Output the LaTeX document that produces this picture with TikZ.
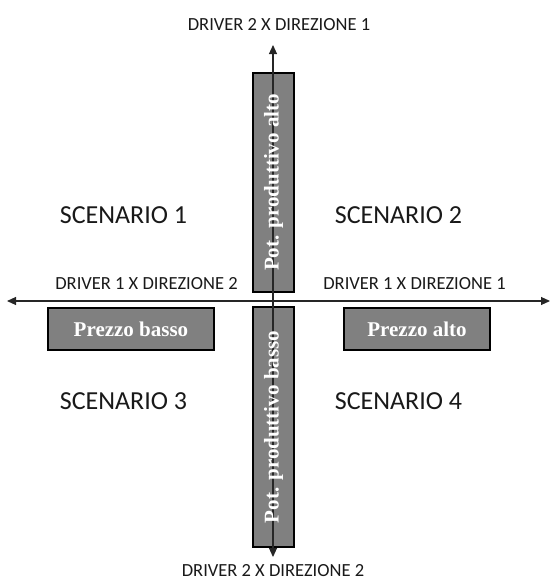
\documentclass[tikz,border=0pt]{standalone}
\usepackage{fontspec}
\setmainfont{Carlito}
\newfontfamily\serifbold{Liberation Serif}[BoldFont={* Bold}]
\usetikzlibrary{arrows.meta, positioning}

\begin{document}
\begin{tikzpicture}[x=1pt, y=-1pt]
    % --- Style Definitions ---
    \tikzset{
        % Grey boxes holding the factors
        factor box/.style={
            draw=black,
            line width=2.2pt,
            fill=black!50,
            inner sep=0pt,
            text=white,
            font=\serifbold\bfseries\fontsize{21}{23}\selectfont
        },
        % Text along the axes
        axis label/.style={
            font=\fontsize{18.5}{20}\selectfont,
            color=black!90,
            anchor=base
        },
        % The four quadrants
        scenario text/.style={
            font=\fontsize{26}{28}\selectfont,
            color=black!90,
            anchor=base
        },
        % Axis arrows
        axis arrow/.style={
            {Triangle[length=9pt, width=8pt]}-{Triangle[length=9pt, width=8pt]},
            line width=1.1pt,
            black!85
        }
    }

    \useasboundingbox (0,0) rectangle (551,581);

    % --- 1. Boxes on the vertical axis ---
    \node[factor box, rotate=90, minimum width=219pt, minimum height=41pt]
        (alto) at (273.5,182.5) {};
    \node[factor box, rotate=90, minimum width=240pt, minimum height=41pt]
        (basso) at (273.5,427) {};

    % --- 2. Boxes on the horizontal axis ---
    \node[factor box, minimum width=166pt, minimum height=42pt]
        (prezzobasso) at (131,329) {Prezzo basso};
    \node[factor box, minimum width=146pt, minimum height=42pt]
        (prezzoalto) at (417,329) {Prezzo alto};

    % --- 3. Axes ---
    \coordinate (ytop) at (273,45);
    \coordinate (ybot) at (273,557);
    \coordinate (xleft) at (7,301);
    \coordinate (xright) at (550,301);
    \draw[axis arrow] (xleft) -- (xright);
    \draw[axis arrow] (ybot) -- (ytop);

    % vertical labels on top of the axis line
    \node[factor box, draw=none, fill=none, rotate=90] (altotext) at (alto.center) {Pot. produttivo alto};
    \node[factor box, draw=none, fill=none, rotate=90] (bassotext) at (basso.center) {Pot. produttivo basso};

    % --- 4. Axis labels ---
    \node[axis label] (d2dir1) at (279,30) {DRIVER 2 X DIREZIONE 1};
    \node[axis label] (d2dir2) at (273,576) {DRIVER 2 X DIREZIONE 2};
    \node[axis label] (d1dir2) at (146.5,289) {DRIVER 1 X DIREZIONE 2};
    \node[axis label] (d1dir1) at (414.5,289) {DRIVER 1 X DIREZIONE 1};

    % --- 5. Scenarios ---
    \node[scenario text] (sc1) at (123.5,223) {SCENARIO 1};
    \node[scenario text] (sc2) at (398.5,223) {SCENARIO 2};
    \node[scenario text] (sc3) at (123.5,409) {SCENARIO 3};
    \node[scenario text] (sc4) at (398.5,409) {SCENARIO 4};

\end{tikzpicture}
\end{document}
